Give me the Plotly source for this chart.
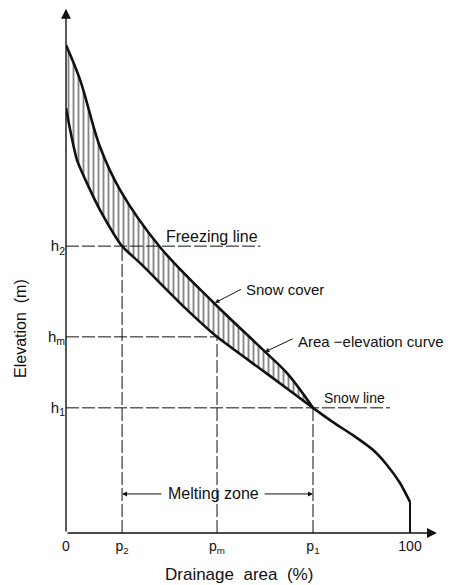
import plotly.graph_objects as go

# ---- data (x: drainage area %, y: elevation, arbitrary units) ----
snow_x = [0.0, 4.1, 9.9, 15.7, 27.3, 42.7, 57.3, 64.2, 71.8]
snow_y = [116.2, 107.9, 91.9, 81.7, 68.1, 55.0, 43.6, 38.1, 29.8]

area_x = [0.0, 1.2, 3.2, 7.0, 9.9, 16.3, 21.5, 34.6, 43.9, 57.8, 71.8, 77.6, 83.4, 89.2, 93.3, 97.1, 100.0]
area_y = [101.2, 96.0, 88.8, 81.7, 76.9, 68.3, 64.3, 53.6, 46.7, 38.3, 29.8, 26.4, 23.3, 19.8, 16.2, 11.9, 7.4]

p_labels = ["0", "p<sub>2</sub>", "p<sub>m</sub>", "p<sub>1</sub>", "100"]
p_vals = [0.0, 16.3, 43.9, 71.8, 100.0]
h_labels = ["h<sub>1</sub>", "h<sub>m</sub>", "h<sub>2</sub>"]
h_vals = [29.8, 46.7, 68.3]

FONT = "Liberation Sans, Arial, sans-serif"
BLACK = "#111111"
X_MAX = 108.14
Y_MAX = 125.0

fig = go.Figure()

# hatched band between snow-cover curve and area-elevation curve
n_band = sum(1 for v in area_x if v <= p_vals[3])
band_x = snow_x + area_x[:n_band][::-1]
band_y = snow_y + area_y[:n_band][::-1]
fig.add_trace(go.Scatter(
    x=band_x, y=band_y, mode="lines", fill="toself",
    line=dict(width=0, shape="spline", color="rgba(0,0,0,0)"),
    fillcolor="white",
    fillpattern=dict(shape="|", size=5, solidity=0.38, fgcolor=BLACK, bgcolor="white"),
    hoverinfo="skip", showlegend=False, cliponaxis=False))

# dashed guide lines
dash = "13px,3px"
guides = [
    ([0, 56.5], [h_vals[2], h_vals[2]]),
    ([0, p_vals[2]], [h_vals[1], h_vals[1]]),
    ([0, 94.2], [h_vals[0], h_vals[0]]),
    ([p_vals[1], p_vals[1]], [0, h_vals[2]]),
    ([p_vals[2], p_vals[2]], [0, h_vals[1]]),
    ([p_vals[3], p_vals[3]], [0, h_vals[0]]),
]
for gx, gy in guides:
    fig.add_trace(go.Scatter(x=gx, y=gy, mode="lines",
                             line=dict(color=BLACK, width=1, dash=dash),
                             hoverinfo="skip", showlegend=False, cliponaxis=False))

# curves
fig.add_trace(go.Scatter(x=snow_x, y=snow_y, mode="lines",
                         line=dict(color=BLACK, width=2.6, shape="spline"),
                         showlegend=False, cliponaxis=False))
fig.add_trace(go.Scatter(x=area_x, y=area_y, mode="lines",
                         line=dict(color=BLACK, width=2.6, shape="spline", smoothing=0.6),
                         showlegend=False, cliponaxis=False))
fig.add_trace(go.Scatter(x=[area_x[-1], area_x[-1]], y=[area_y[-1], 0], mode="lines",
                         line=dict(color=BLACK, width=2),
                         showlegend=False, cliponaxis=False))

ann = []
# axis arrows (also serve as axis lines)
ann.append(dict(x=0, y=124.8, ax=0, ay=0, xref="x", yref="y", axref="x", ayref="y",
                showarrow=True, arrowhead=2, arrowsize=1.4, arrowwidth=1.4,
                arrowcolor=BLACK, text=""))
ann.append(dict(x=107.8, y=0, ax=0, ay=0, xref="x", yref="y", axref="x", ayref="y",
                showarrow=True, arrowhead=2, arrowsize=1.4, arrowwidth=1.4,
                arrowcolor=BLACK, text=""))

def tf(s):
    return dict(family=FONT, size=s, color=BLACK)

ann.append(dict(x=28.5, y=70.6, text="Freezing line", showarrow=False,
                xanchor="left", yanchor="middle", font=tf(16)))
ann.append(dict(x=51.8, y=57.9, text="Snow cover", showarrow=False,
                xanchor="left", yanchor="middle", font=tf(15)))
ann.append(dict(x=67.0, y=45.7, text="Area \u2212elevation curve", showarrow=False,
                xanchor="left", yanchor="middle", font=tf(15)))
ann.append(dict(x=74.5, y=32.2, text="Snow line", showarrow=False,
                xanchor="left", yanchor="middle", font=tf(14)))
ann.append(dict(x=43.0, y=9.3, text="Melting zone", showarrow=False,
                xanchor="center", yanchor="middle", font=tf(16)))

# axis titles (paper coordinates so they can sit outside the plot area)
ann.append(dict(x=50.3 / X_MAX, y=-9.8 / Y_MAX, xref="paper", yref="paper",
                text="Drainage  area  (%)", showarrow=False,
                xanchor="center", yanchor="middle", font=tf(17)))
ann.append(dict(x=-13.4 / X_MAX, y=48.8 / Y_MAX, xref="paper", yref="paper",
                text="Elevation  (m)", showarrow=False, textangle=-90,
                xanchor="center", yanchor="middle", font=tf(16)))

# leaders
ann.append(dict(x=43.3, y=54.8, ax=51.3, ay=58.2, xref="x", yref="y", axref="x", ayref="y",
                showarrow=True, arrowhead=2, arrowsize=0.9, arrowwidth=1,
                arrowcolor=BLACK, text=""))
ann.append(dict(x=57.8, y=43.1, ax=66.3, ay=46.4, xref="x", yref="y", axref="x", ayref="y",
                showarrow=True, arrowhead=2, arrowsize=0.9, arrowwidth=1,
                arrowcolor=BLACK, text=""))
# melting zone arrows
ann.append(dict(x=p_vals[1], y=9.3, ax=28.2, ay=9.3, xref="x", yref="y", axref="x", ayref="y",
                showarrow=True, arrowhead=2, arrowsize=1, arrowwidth=1,
                arrowcolor=BLACK, text=""))
ann.append(dict(x=p_vals[3], y=9.3, ax=57.3, ay=9.3, xref="x", yref="y", axref="x", ayref="y",
                showarrow=True, arrowhead=2, arrowsize=1, arrowwidth=1,
                arrowcolor=BLACK, text=""))

fig.update_layout(
    width=443, height=577,
    margin=dict(l=58, r=13, t=0, b=52),
    paper_bgcolor="white", plot_bgcolor="white",
    font=dict(family=FONT, size=14, color=BLACK),
    annotations=ann,
    xaxis=dict(range=[0, X_MAX], showgrid=False, zeroline=False, showline=False,
               tickvals=p_vals, ticktext=p_labels, ticks="", ticklabelstandoff=3,
               tickfont=tf(14), automargin=False, fixedrange=True),
    yaxis=dict(range=[0, Y_MAX], showgrid=False, zeroline=False, showline=False,
               tickvals=h_vals, ticktext=h_labels, ticks="",
               tickfont=tf(15), automargin=False, fixedrange=True),
)

fig.write_html("out.html")
